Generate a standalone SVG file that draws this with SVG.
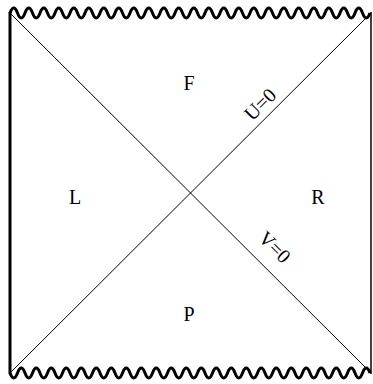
<svg xmlns="http://www.w3.org/2000/svg" width="373" height="384" viewBox="0 0 373 384">
<style>
.t{font-family:"Liberation Serif","Times New Roman",serif;font-size:20px;fill:#000;text-anchor:middle}
.w{fill:none;stroke:#000;stroke-width:3}
.d{stroke:#000;stroke-width:1;fill:none}
</style>
<rect width="373" height="384" fill="#fff"/>
<g id="connectors">
<line class="d" x1="10" y1="13" x2="371" y2="373"/>
<line class="d" x1="371" y1="13" x2="10" y2="373"/>
</g>
<g id="boundary-left"><line x1="10" y1="12" x2="10" y2="374" stroke="#000" stroke-width="3"/></g>
<g id="boundary-right"><line x1="371" y1="12" x2="371" y2="374" stroke="#000" stroke-width="1.5"/></g>
<g id="singularity-top"><path class="w" d="M10,13 q3.75,-10 7.5,0 t7.5,0 t7.5,0 t7.5,0 t7.5,0 t7.5,0 t7.5,0 t7.5,0 t7.5,0 t7.5,0 t7.5,0 t7.5,0 t7.5,0 t7.5,0 t7.5,0 t7.5,0 t7.5,0 t7.5,0 t7.5,0 t7.5,0 t7.5,0 t7.5,0 t7.5,0 t7.5,0 t7.5,0 t7.5,0 t7.5,0 t7.5,0 t7.5,0 t7.5,0 t7.5,0 t7.5,0 t7.5,0 t7.5,0 t7.5,0 t7.5,0 t7.5,0 t7.5,0 t7.5,0 t7.5,0 t7.5,0 t7.5,0 t7.5,0 t7.5,0 t7.5,0 t7.5,0 t7.5,0 t7.5,0"/></g>
<g id="singularity-bottom"><path class="w" d="M10,373 q3.75,10 7.5,0 t7.5,0 t7.5,0 t7.5,0 t7.5,0 t7.5,0 t7.5,0 t7.5,0 t7.5,0 t7.5,0 t7.5,0 t7.5,0 t7.5,0 t7.5,0 t7.5,0 t7.5,0 t7.5,0 t7.5,0 t7.5,0 t7.5,0 t7.5,0 t7.5,0 t7.5,0 t7.5,0 t7.5,0 t7.5,0 t7.5,0 t7.5,0 t7.5,0 t7.5,0 t7.5,0 t7.5,0 t7.5,0 t7.5,0 t7.5,0 t7.5,0 t7.5,0 t7.5,0 t7.5,0 t7.5,0 t7.5,0 t7.5,0 t7.5,0 t7.5,0 t7.5,0 t7.5,0 t7.5,0 t7.5,0"/></g>
<g id="F"><text class="t" x="189" y="90">F</text></g>
<g id="P"><text class="t" x="189" y="321">P</text></g>
<g id="L"><text class="t" x="75" y="204">L</text></g>
<g id="R"><text class="t" x="318" y="204">R</text></g>
<g id="U0"><text class="t" x="0" y="0" transform="translate(265,109) rotate(-45)">U=0</text></g>
<g id="V0"><text class="t" x="0" y="0" transform="translate(270,252) rotate(45)">V=0</text></g>
</svg>
